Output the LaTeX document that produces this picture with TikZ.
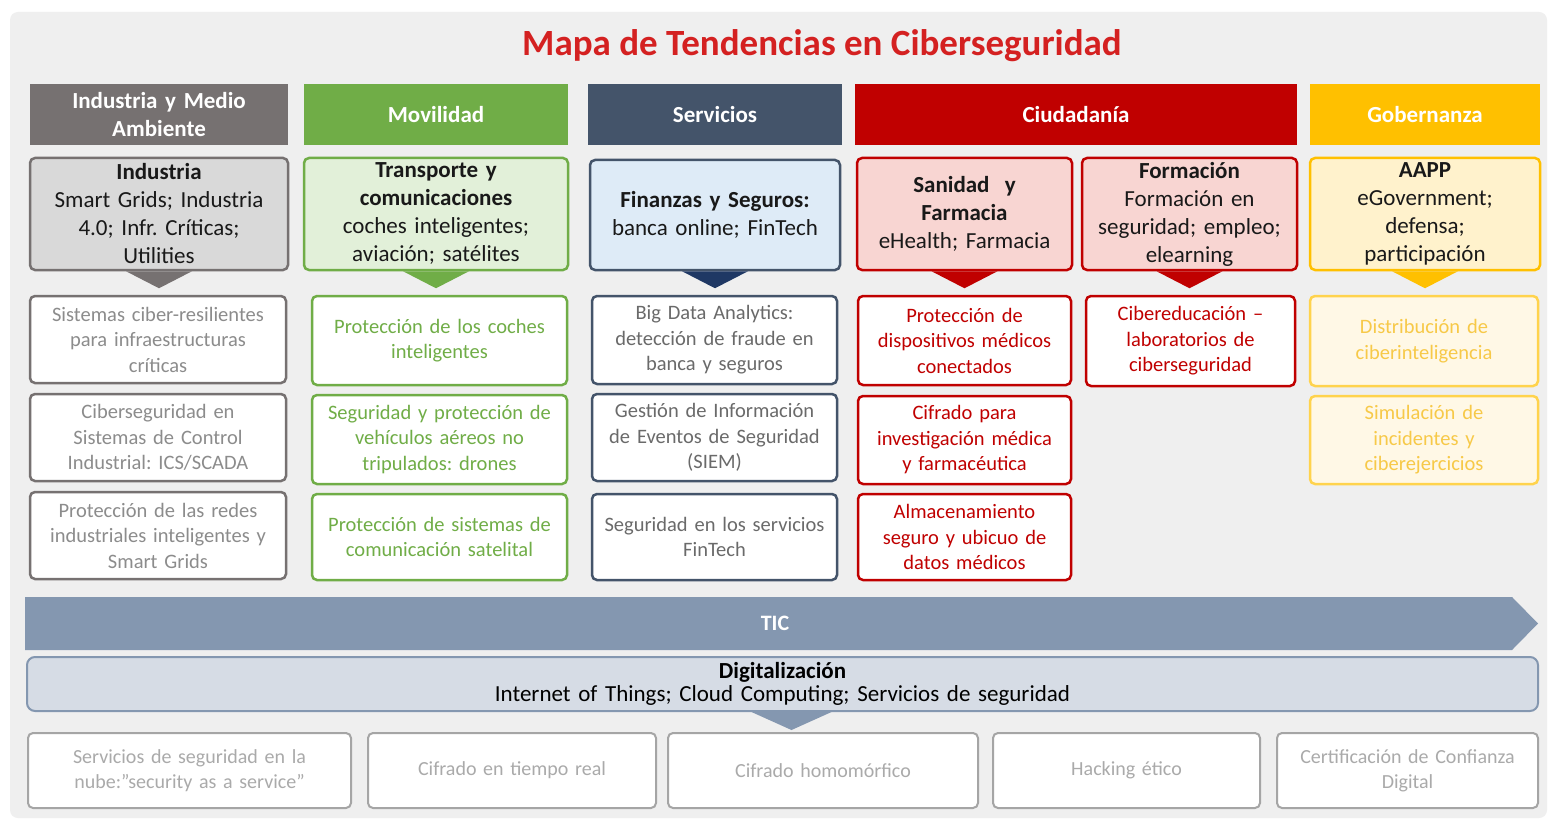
\documentclass[tikz,border=0pt]{standalone}
\usepackage{fontspec}
\setmainfont{Carlito}
\frenchspacing
\usetikzlibrary{calc}
\definecolor{bgc}{HTML}{EFEFEF}
\definecolor{titred}{HTML}{D42121}
\definecolor{gryH}{HTML}{767171}
\definecolor{gryL}{HTML}{D9D9D9}
\definecolor{gryT}{HTML}{8C8C8C}
\definecolor{grnH}{HTML}{70AD47}
\definecolor{grnL}{HTML}{E2F0D9}
\definecolor{bluH}{HTML}{44546A}
\definecolor{bluL}{HTML}{DEEBF7}
\definecolor{bluT}{HTML}{6A6A6A}
\definecolor{navy}{HTML}{1F3864}
\definecolor{redH}{HTML}{C00000}
\definecolor{redL}{HTML}{F8D5D2}
\definecolor{golH}{HTML}{FFC000}
\definecolor{golL}{HTML}{FFF2CC}
\definecolor{golW}{HTML}{FFF8E6}
\definecolor{golT}{HTML}{F7C948}
\definecolor{golB}{HTML}{FFD34D}
\definecolor{ticc}{HTML}{8497B0}
\definecolor{digc}{HTML}{D6DCE5}
\definecolor{botB}{HTML}{A5A5A5}
\definecolor{botT}{HTML}{AAAAAA}
\newcommand\bx[7]{%
 \pgfmathsetmacro\bxw{#3-#1}\pgfmathsetmacro\bxh{#4-#2}%
 \pgfmathsetmacro\bxtw{#3-#1-6}%
 \node[#6, minimum width=\bxw pt, minimum height=\bxh pt, text width=\bxtw pt] (#5) at ({(#1+#3)/2},{(#2+#4)/2}) {#7};}
\newcommand\tri[3]{%
 \fill[#2] ($(#1.south)+(-#3,0)$) -- ($(#1.south)+(#3,0)$) -- ($(#1.south)+(0,17)$) -- cycle;}
\tikzset{
 hdr/.style={rectangle, inner sep=0pt, align=center, text=white, font=\fontsize{23}{28}\selectfont\bfseries},
 sec/.style={rectangle, rounded corners=5pt, line width=2.5pt, inner sep=0pt, align=center, text=black!90, font=\fontsize{23}{28}\selectfont},
 itm/.style={rectangle, rounded corners=5pt, line width=2.5pt, fill=white, inner sep=0pt, align=center, font=\fontsize{20.5}{25.5}\selectfont},
 bot/.style={rectangle, rounded corners=5pt, line width=2pt, draw=botB, fill=white, text=botT, inner sep=0pt, align=center, font=\fontsize{20}{25}\selectfont},
}
\begin{document}
\begin{tikzpicture}[x=1pt,y=-1pt]
\useasboundingbox (0,0) rectangle (1549,821);
\fill[white] (0,0) rectangle (1549,821);
\fill[bgc, rounded corners=8pt] (10,12) rectangle (1547,818);
\node[font=\fontsize{37}{42}\selectfont\bfseries, text=titred] (title) at (822,46) {Mapa de Tendencias en Ciberseguridad};
% headers
\bx{30}{84}{288}{145}{h1}{hdr, fill=gryH}{Industria y Medio\\Ambiente}
\bx{304}{84}{568}{145}{h2}{hdr, fill=grnH}{Movilidad}
\bx{588}{84}{842}{145}{h3}{hdr, fill=bluH}{Servicios}
\bx{855}{84}{1297}{145}{h4}{hdr, fill=redH}{Ciudadanía}
\bx{1310}{84}{1540}{145}{h5}{hdr, fill=golH}{Gobernanza}
% sector boxes
\bx{30}{158}{288}{270}{s1}{sec, draw=gryH, fill=gryL}{\textbf{Industria}\\Smart Grids; Industria\\4.0; Infr. Críticas;\\Utilities}
\bx{304}{158}{568}{270}{s2}{sec, draw=grnH, fill=grnL}{\textbf{Transporte y}\\\textbf{comunicaciones}\\coches inteligentes;\\aviación; satélites}
\bx{590}{160}{840}{270}{s3}{sec, draw=bluH, fill=bluL}{\textbf{Finanzas y Seguros:}\\banca online; FinTech}
\bx{857}{158}{1072}{270}{s4}{sec, draw=redH, fill=redL}{\textbf{Sanidad\ \ y}\\\textbf{Farmacia}\\eHealth; Farmacia}
\bx{1082}{158}{1297}{270}{s5}{sec, draw=redH, fill=redL}{\textbf{Formación}\\Formación en\\seguridad; empleo;\\elearning}
\bx{1310}{158}{1540}{270}{s6}{sec, draw=golH, fill=golL}{\textbf{AAPP}\\eGovernment;\\defensa;\\participación}
\tri{s1}{gryH}{33}
\tri{s2}{grnH}{33}
\tri{s3}{navy}{33}
\tri{s4}{redH}{33}
\tri{s5}{redH}{33}
\tri{s6}{golH}{33}
% items: industria
\bx{30}{296}{286}{383}{a1}{itm, draw=gryH, text=gryT}{Sistemas ciber-resilientes\\para infraestructuras\\críticas}
\bx{30}{394}{286}{481}{a2}{itm, draw=gryH, text=gryT}{Ciberseguridad en\\Sistemas de Control\\Industrial: ICS/SCADA}
\bx{30}{492}{286}{579}{a3}{itm, draw=gryH, text=gryT}{Protección de las redes\\industriales inteligentes y\\Smart Grids}
% movilidad
\bx{312}{296}{567}{385}{b1}{itm, draw=grnH, text=grnH}{Protección de los coches\\inteligentes}
\bx{312}{395}{567}{484}{b2}{itm, draw=grnH, text=grnH}{Seguridad y protección de\\vehículos aéreos no\\tripulados: drones}
\bx{312}{494}{567}{580}{b3}{itm, draw=grnH, text=grnH}{Protección de sistemas de\\comunicación satelital}
% servicios
\bx{592}{296}{837}{384}{c1}{itm, draw=bluH, text=bluT}{Big Data Analytics:\\detección de fraude en\\banca y seguros}
\bx{592}{394}{837}{481}{c2}{itm, draw=bluH, text=bluT}{Gestión de Información\\de Eventos de Seguridad\\(SIEM)}
\bx{592}{494}{837}{580}{c3}{itm, draw=bluH, text=bluT}{Seguridad en los servicios\\FinTech}
% sanidad
\bx{858}{296}{1071}{385}{d1}{itm, draw=redH, text=redH}{Protección de\\dispositivos médicos\\conectados}
\bx{858}{396}{1071}{484}{d2}{itm, draw=redH, text=redH}{Cifrado para\\investigación médica\\y farmacéutica}
\bx{858}{494}{1071}{580}{d3}{itm, draw=redH, text=redH}{Almacenamiento\\seguro y ubicuo de\\datos médicos}
% formacion
\bx{1086}{296}{1295}{386}{e1}{itm, draw=redH, text=redH}{Cibereducación --\\laboratorios de\\ciberseguridad}
% gobernanza
\bx{1310}{296}{1538}{386}{f1}{itm, draw=golB, fill=golW, text=golT}{Distribución de\\ciberinteligencia}
\bx{1310}{396}{1538}{484}{f2}{itm, draw=golB, fill=golW, text=golT}{Simulación de\\incidentes y\\ciberejercicios}
% TIC arrow
\fill[ticc] (25,597) -- (1512,597) -- (1538,623.5) -- (1512,650) -- (25,650) -- cycle;
\node[text=white, font=\fontsize{22}{24}\selectfont\bfseries] (tic) at (775,623.5) {TIC};
% digitalizacion
\bx{27}{657}{1538}{711}{dig}{rectangle, rounded corners=8pt, line width=2pt, draw=ticc, fill=digc, inner sep=0pt, align=center, text=black, font=\fontsize{23}{22.5}\selectfont}{\textbf{Digitalización}\\Internet of Things; Cloud Computing; Servicios de seguridad}
\fill[ticc] ($(dig.south)+(-31,0)$) -- ($(dig.south)+(49,0)$) -- ($(dig.south)+(9,18)$) -- cycle;
% bottom row
\bx{28}{733}{351}{808}{g1}{bot}{Servicios de seguridad en la\\nube:"security as a service"}
\bx{368}{733}{656}{808}{g2}{bot}{Cifrado en tiempo real}
\bx{668}{733}{978}{808}{g3}{bot}{Cifrado homomórfico}
\bx{993}{733}{1260}{808}{g4}{bot}{Hacking ético}
\bx{1277}{733}{1538}{808}{g5}{bot}{Certificación de Confianza\\Digital}
\end{tikzpicture}
\end{document}
